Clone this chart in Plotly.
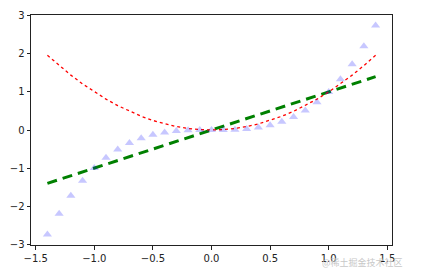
import plotly.graph_objects as go

x_vals = [-1.4, -1.3, -1.2, -1.1, -1.0, -0.9, -0.8, -0.7, -0.6, -0.5, -0.4, -0.3, -0.2, -0.1, 0.0,
          0.1, 0.2, 0.3, 0.4, 0.5, 0.6, 0.7, 0.8, 0.9, 1.0, 1.1, 1.2, 1.3, 1.4]
linear_vals = [-1.4, -1.3, -1.2, -1.1, -1.0, -0.9, -0.8, -0.7, -0.6, -0.5, -0.4, -0.3, -0.2, -0.1, 0.0,
               0.1, 0.2, 0.3, 0.4, 0.5, 0.6, 0.7, 0.8, 0.9, 1.0, 1.1, 1.2, 1.3, 1.4]
square_vals = [1.96, 1.69, 1.44, 1.21, 1.0, 0.81, 0.64, 0.49, 0.36, 0.25, 0.16, 0.09, 0.04, 0.01, 0.0,
               0.01, 0.04, 0.09, 0.16, 0.25, 0.36, 0.49, 0.64, 0.81, 1.0, 1.21, 1.44, 1.69, 1.96]
cube_vals = [-2.744, -2.197, -1.728, -1.331, -1.0, -0.729, -0.512, -0.343, -0.216, -0.125, -0.064, -0.027,
             -0.008, -0.001, 0.0, 0.001, 0.008, 0.027, 0.064, 0.125, 0.216, 0.343, 0.512, 0.729, 1.0,
             1.331, 1.728, 2.197, 2.744]

x_ticks = [-1.5, -1.0, -0.5, 0.0, 0.5, 1.0, 1.5]
x_tick_labels = ["\u22121.5", "\u22121.0", "\u22120.5", "0.0", "0.5", "1.0", "1.5"]
y_ticks = [-3, -2, -1, 0, 1, 2, 3]
y_tick_labels = ["\u22123", "\u22122", "\u22121", "0", "1", "2", "3"]

fig = go.Figure()
fig.add_trace(go.Scatter(x=x_vals, y=linear_vals, mode="lines",
                         line=dict(color="#008000", width=3, dash="10px,6px")))
fig.add_trace(go.Scatter(x=x_vals, y=square_vals, mode="lines",
                         line=dict(color="#ff0000", width=1.3, dash="dot")))
fig.add_trace(go.Scatter(x=x_vals, y=cube_vals, mode="markers",
                         marker=dict(symbol="triangle-up", size=8, color="rgba(0,0,255,0.22)",
                                     line=dict(width=0))))

axis_common = dict(showgrid=False, zeroline=False, showline=True, linecolor="#222", linewidth=1,
                   mirror=True, ticks="outside", ticklen=3.5, tickwidth=1, tickcolor="#222",
                   tickfont=dict(family="DejaVu Sans", size=10, color="#222"))
fig.update_xaxes(range=[-1.54, 1.54], tickvals=x_ticks, ticktext=x_tick_labels, **axis_common)
fig.update_yaxes(range=[-3.018, 3.018], tickvals=y_ticks, ticktext=y_tick_labels, **axis_common)

fig.add_annotation(text="@稀土掘金技术社区", xref="paper", yref="paper", x=1.035, y=-0.075,
                   xanchor="right", yanchor="middle", showarrow=False,
                   font=dict(family="Noto Sans CJK SC", size=9, color="#c8c8c8"))

fig.update_layout(width=422, height=276, margin=dict(l=29, r=30, t=10, b=31),
                  plot_bgcolor="white", paper_bgcolor="white", showlegend=False)

fig.write_html("out.html")
